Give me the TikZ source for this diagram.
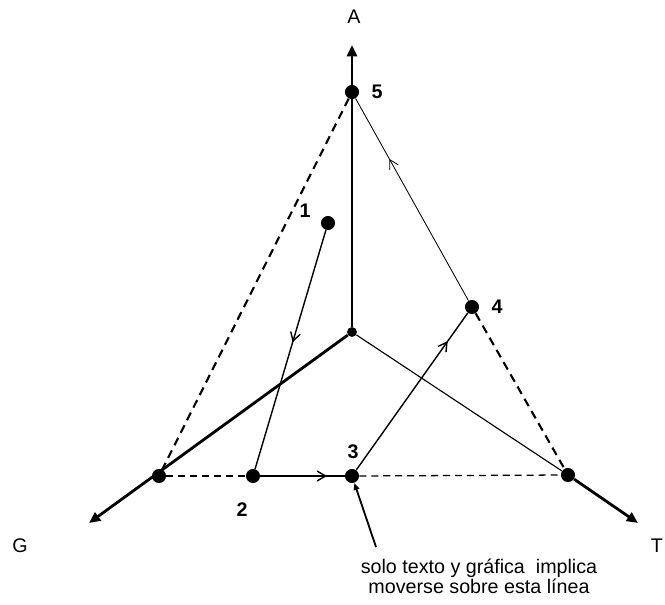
\documentclass[tikz,border=0pt]{standalone}
\usepackage{fontspec}
\setmainfont{Liberation Sans}
\usetikzlibrary{arrows.meta, decorations.markings}

\tikzset{
  dot/.style={circle, fill=black, inner sep=0pt, minimum size=10pt},
  smalldot/.style={dot, minimum size=7pt},
  axis/.style={line width=2pt, -{Triangle[length=8pt,width=7pt]}},
  route/.style={line width=1pt, postaction={decorate},
    decoration={markings, mark=at position #1 with {\arrow{Straight Barb[length=6pt,width=7pt]}}}},
  tie/.style={line width=1.5pt, dash pattern=on 6pt off 4pt},
  thintie/.style={line width=0.9pt, dash pattern=on 5pt off 3.5pt},
  num/.style={font=\fontsize{14}{14}\bfseries}
}

\begin{document}
\begin{tikzpicture}[x=0.025cm, y=-0.025cm, font=\fontsize{14}{13}\selectfont]
        \useasboundingbox (0,0) rectangle (665,605);
        \node[smalldot] (o) at (352,332) {};
        \coordinate (atip) at (352,45);
        \coordinate (gtip) at (89,523);
        \coordinate (ttip) at (638,523);
        \node[dot] (g) at (159,476) {};
        \node[dot] (t) at (568,475) {};
        \node[dot] (p1) at (328,223) {};
        \node[dot] (p2) at (253,476) {};
        \node[dot] (p3) at (352,476) {};
        \node[dot] (p4) at (472,307) {};
        \node[dot] (p5) at (352,92) {};
        \draw[axis] (o) -- (atip);
        \draw[axis] (o) -- (gtip);
        \draw[line width=0.8pt] (o) -- (t);
        \draw[axis] (t) -- (ttip);
        \draw[tie] (p5) -- (g);
        \draw[tie] (p4) -- (t);
        \draw[thintie] (g) -- (p2);
        \draw[thintie] (p3) -- (t);
        \draw[route=0.47] (p1) -- (p2);
        \draw[route=0.79] (p2) -- (p3);
        \draw[route=0.82] (p3) -- (p4);
        \draw[route=0.70, line width=0.6pt] (p4) -- (p5);
        \coordinate (ptr) at (376,547);
        \draw[line width=1.3pt, -{Triangle[length=5pt,width=4pt]}] (ptr) -- (p3);
        \node (la) at (354,17) {A};
        \node (lg) at (20,546) {G};
        \node (lt) at (657,546) {T};
        \node[num] (n1) at (305,211) {1};
        \node[num] (n2) at (242,510) {2};
        \node[num] (n3) at (353,452) {3};
        \node[num] (n4) at (497,307) {4};
        \node[num] (n5) at (377,92) {5};
        \node[align=center] (note) at (479,576) {solo texto y gráfica\ \ implica\\ moverse sobre esta línea};
      \end{tikzpicture}
\end{document}
